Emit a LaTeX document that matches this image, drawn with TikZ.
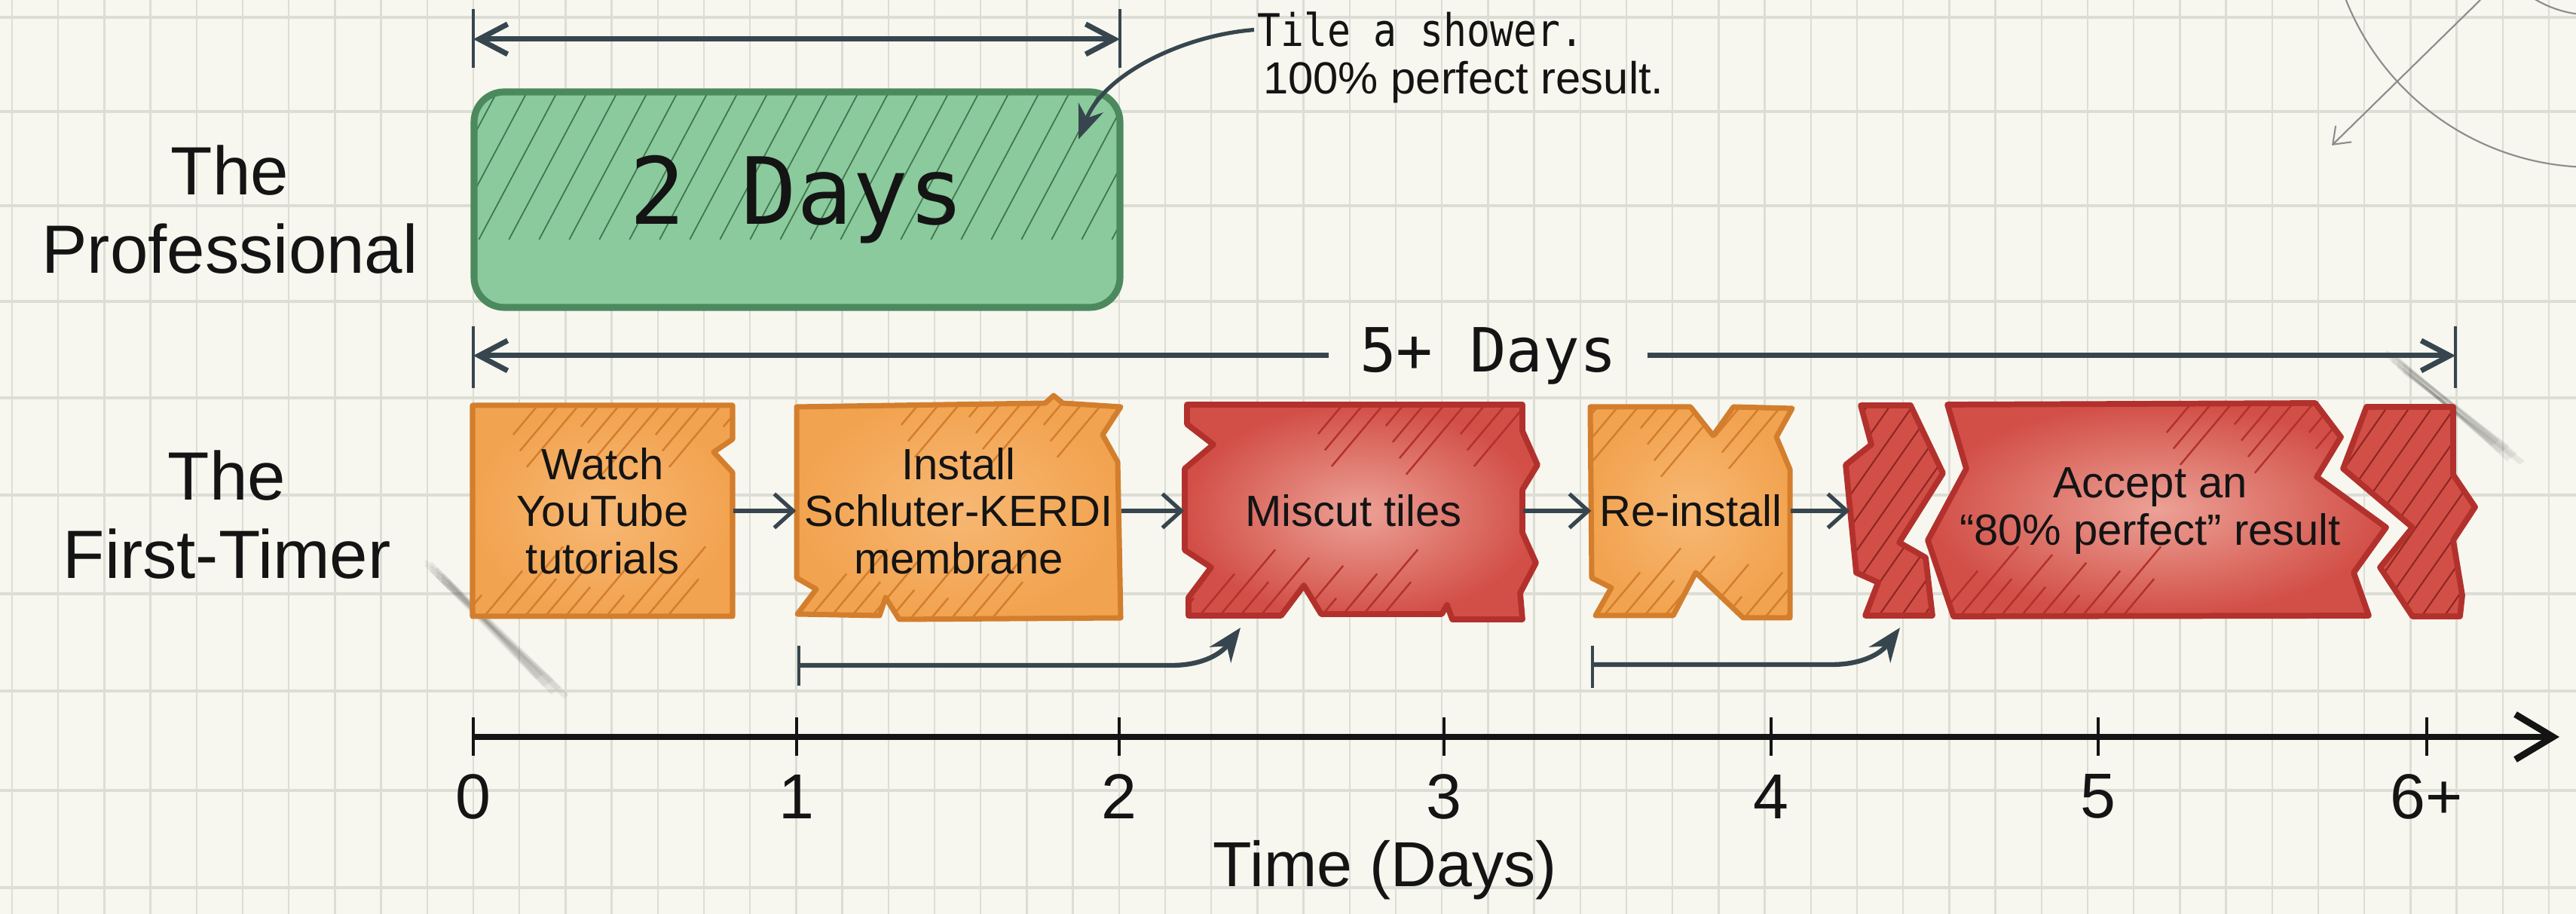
\documentclass[tikz,border=0pt]{standalone}
\usepackage{fontspec}
\setmainfont{Liberation Sans}
\setmonofont{DejaVu Sans Mono}
\newfontfamily\narrowmono[FakeStretch=0.86]{DejaVu Sans Mono}
\usetikzlibrary{arrows.meta}

\definecolor{paper}{HTML}{F7F7EF}
\definecolor{gridline}{HTML}{DCDDD5}
\definecolor{slate}{HTML}{37464E}
\definecolor{ink}{HTML}{141414}
\definecolor{progreen}{HTML}{8ACA9C}
\definecolor{prodark}{HTML}{4C8A5E}
\definecolor{orangefill}{HTML}{F2A34F}
\definecolor{orangelight}{HTML}{F7B874}
\definecolor{orangeedge}{HTML}{D37E2D}
\definecolor{redfill}{HTML}{D24F47}
\definecolor{redlight}{HTML}{ECA196}
\definecolor{rededge}{HTML}{B3312C}

\newcommand{\lanefont}{\fontsize{25.8}{29.5}\selectfont}
\newcommand{\stepfont}{\fontsize{16.5}{17.8}\selectfont}
\newcommand{\tickfont}{\fontsize{24}{28}\selectfont}
\newcommand{\bigmono}{\fontsize{35}{40}\selectfont\ttfamily}
\newcommand{\spanmono}{\fontsize{23}{27}\selectfont\ttfamily}
\newcommand{\notemono}{\fontsize{17}{20}\selectfont\narrowmono}
\newcommand{\notesans}{\fontsize{17}{20}\selectfont}

\tikzset{
  dimtip/.tip={Straight Barb[length=3.8mm,width=4mm]},
  lane/.style={font=\lanefont, align=center, text=ink},
  task/.style={font=\stepfont, align=center, text=ink, inner sep=0pt,
    minimum height=2.8cm},
  tick/.style={font=\tickfont, text=ink},
  note/.style={text=ink, inner sep=1pt},
  flow/.style={slate, line width=1.5pt,
    -{Straight Barb[length=2.5mm,width=4.5mm]}},
  span/.style={slate, line width=2pt},
  endbar/.style={slate, line width=1pt},
  pointer/.style={slate, line width=1.8pt,
    -{Stealth[length=4.5mm,width=3.5mm]}},
  pencil/.style={black!45, line width=0.6pt},
  smudge/.style={black!70, line width=1.1pt, opacity=0.09, line cap=round},
  % diagonal hatching over the whole shape
  hatched/.style n args={3}{path picture={
    \foreach \k in {-10,...,45}
      \draw[#1, shift={(path picture bounding box.south west)}]
        (\k*#2,-0.2) -- ++(#3:4.5);
  }},
  % loose strokes in the top right and bottom left corners
  scratches/.style={path picture={
    \foreach \k in {0,...,10}
      \draw[#1, shift={(path picture bounding box.north east)}]
        ({0.2-\k*0.27},0.1) -- ++(230:{0.5+0.14*mod(\k*5,7)});
    \foreach \k in {0,...,10}
      \draw[#1, shift={(path picture bounding box.south west)}]
        ({\k*0.27-0.2},-0.1) -- ++(50:{0.5+0.14*mod(\k*3,7)});
  }},
  orangebox/.style={draw=orangeedge, line width=2pt, line join=round,
    inner color=orangelight, outer color=orangefill,
    scratches={orangeedge, line width=0.7pt}},
  redbox/.style={draw=rededge, line width=2.2pt, line join=round,
    inner color=redlight, outer color=redfill,
    scratches={rededge, line width=0.7pt}},
  redshard/.style={draw=rededge, line width=2.2pt, line join=round,
    fill=redfill, hatched={rededge!80!black, line width=0.6pt}{0.3}{55}},
  proframe/.style={draw=prodark, fill=progreen, line width=2.6pt,
    rounded corners=0.4cm, minimum width=8.57cm, minimum height=2.86cm,
    font=\bigmono, text=ink,
    hatched={prodark!85!black, line width=0.5pt}{0.4}{62}},
}

\begin{document}
\begin{tikzpicture}
  % graph paper
  \useasboundingbox (0,0) rectangle (34.18,12.13);
  \fill[paper] (0,0) rectangle (34.18,12.13);
  \foreach \gx in {0,...,55}
    \draw[gridline, line width=0.7pt] ({0.16+0.612*\gx},0) -- ({0.16+0.612*\gx},12.13);
  \foreach \gy in {23,148,273,400,528,657,788,917,1049,1178}
    \draw[gridline, line width=0.9pt] (0,{12.13-\gy/100}) -- (34.18,{12.13-\gy/100});

  % pencil marks
  \begin{scope}
    \clip (0,0) rectangle (34.18,12.13);
    \draw[pencil] (34.40,13.43) circle (3.52);
    \draw[pencil] (34.40,13.43) circle (1.50);
  \end{scope}
  \draw[pencil, -{Straight Barb[length=2mm,width=3mm]}] (32.91,12.13) -- (30.94,10.20);
  \foreach \s [count=\n] in {0,0.025,...,0.3} {
    \draw[smudge] ({5.60+\s+0.05*mod(\n,3)},{4.68-\s}) -- ({7.25+\s-0.06*mod(\n,4)},{3.18-\s});
    \draw[smudge] ({31.62+\s+0.05*mod(\n,3)},{7.46-\s}) -- ({33.20+\s-0.06*mod(\n,4)},{6.28-\s});
  }

  % lanes
  \node[lane] (pro) at (3.05,9.35) {The\\Professional};
  \node[lane] (first) at (3.01,5.30) {The\\First-Timer};

  % professional: 2 days
  \coordinate (pro0) at (6.28,11.61);
  \coordinate (pro2) at (14.86,11.61);
  \draw[endbar] (6.28,12.01) -- (6.28,11.23);
  \draw[endbar] (14.86,12.01) -- (14.86,11.23);
  \draw[span, dimtip-dimtip] (pro0) -- (pro2);
  \node[proframe] (twodays) at (10.575,9.48) {2 Days};

  \node[note, anchor=base west, font=\notemono] (tile) at (16.64,11.51) {Tile a shower.};
  \node[note, anchor=base west, font=\notesans] (perfect) at (16.72,10.88) {100\% perfect result.};
  \coordinate (aim) at (14.31,10.28);
  \draw[pointer, line width=1.5pt] (tile.west) .. controls (15.70,11.66) and (14.65,11.15) .. (aim);

  % first-timer: 5+ days
  \node[font=\spanmono, text=ink, inner sep=0.4cm] (fivedays) at (19.745,7.41) {5+ Days};
  \coordinate (first0) at (6.28,7.41);
  \coordinate (firstend) at (32.58,7.41);
  \draw[endbar] (6.28,7.80) -- (6.28,6.98);
  \draw[endbar] (32.58,7.80) -- (32.58,6.98);
  \draw[span, -dimtip] (fivedays.west) -- (first0);
  \draw[span, -dimtip] (fivedays.east) -- (firstend);

  % the torn task cards
  \shadedraw[orangebox] (6.27,6.75) -- (9.72,6.75) -- (9.72,6.30) -- (9.47,6.13)
    -- (9.72,5.86) -- (9.72,3.95) -- (6.27,3.95) -- cycle;
  \shadedraw[orangebox] (10.57,6.73) -- (13.87,6.78) -- (13.98,6.88) -- (14.10,6.78)
    -- (14.87,6.73) -- (14.63,6.36) -- (14.83,6.00) -- (14.87,3.93) -- (11.93,3.91)
    -- (11.75,4.20) -- (11.67,3.96) -- (10.58,3.98) -- (10.83,4.31) -- (10.57,4.46) -- cycle;
  \shadedraw[redbox] (15.75,6.76) -- (20.20,6.76) -- (20.20,6.41) -- (20.40,5.96)
    -- (20.20,5.63) -- (20.20,5.06) -- (20.38,4.66) -- (20.17,4.26) -- (20.20,3.91)
    -- (19.27,3.91) -- (19.20,4.10) -- (19.13,3.98) -- (17.53,3.98) -- (17.30,4.36)
    -- (17.00,3.96) -- (15.77,3.96) -- (15.77,4.20) -- (16.07,4.60) -- (15.72,4.83)
    -- (15.72,5.91) -- (16.10,6.23) -- (15.75,6.50) -- cycle;
  \shadedraw[orangebox] (21.10,6.73) -- (22.43,6.73) -- (22.73,6.35) -- (23.00,6.73)
    -- (23.78,6.71) -- (23.57,6.33) -- (23.75,5.90) -- (23.75,3.93) -- (23.13,3.93)
    -- (22.50,4.53) -- (22.20,3.96) -- (21.17,3.96) -- (21.38,4.33) -- (21.12,4.46) -- cycle;
  \filldraw[redshard] (24.69,6.75) -- (25.35,6.75) -- (25.78,5.85) -- (25.20,4.93)
    -- (25.55,4.73) -- (25.64,3.96) -- (24.75,3.96) -- (24.92,4.40) -- (24.63,4.53)
    -- (24.49,5.96) -- (24.83,6.23) -- cycle;
  \shadedraw[redbox] (25.84,6.76) -- (30.72,6.78) -- (31.06,6.33) -- (30.74,5.80)
    -- (31.66,5.13) -- (31.23,4.53) -- (31.43,3.96) -- (25.92,3.95) -- (25.58,4.96)
    -- (26.09,5.91) -- cycle;
  \filldraw[redshard] (31.40,6.73) -- (32.55,6.73) -- (32.55,5.83) -- (32.84,5.40)
    -- (32.55,4.96) -- (32.67,4.23) -- (32.64,3.95) -- (32.01,3.95) -- (31.58,4.60)
    -- (32.01,5.13) -- (31.09,5.91) -- cycle;

  \node[task, minimum width=3.45cm] (watch) at (7.995,5.35) {Watch\\YouTube\\tutorials};
  \node[task, minimum width=4.30cm] (kerdi) at (12.72,5.35) {Install\\Schluter-KERDI\\membrane};
  \node[task, minimum width=4.48cm] (miscut) at (17.96,5.35) {Miscut tiles};
  \node[task, minimum width=2.63cm] (reinstall) at (22.435,5.35) {Re-install};
  \node[task, minimum width=7.96cm] (accept) at (28.53,5.35) {Accept an\\“80\% perfect” result};

  \draw[flow] (watch.east) -- (kerdi.west);
  \draw[flow] (kerdi.east) -- (miscut.west);
  \draw[flow] (miscut.east) -- (reinstall.west);
  \draw[flow] (reinstall.east) -- (accept.west);

  % slips back into red
  \coordinate (slip1) at (10.60,3.30);
  \coordinate (hit1) at (16.46,3.80);
  \draw[endbar] (10.60,3.56) -- (10.60,3.03);
  \draw[pointer] (slip1) -- (15.55,3.30) .. controls (15.95,3.30) and (16.20,3.45) .. (hit1);
  \coordinate (slip2) at (21.13,3.31);
  \coordinate (hit2) at (25.21,3.80);
  \draw[endbar] (21.13,3.56) -- (21.13,3.00);
  \draw[pointer] (slip2) -- (24.30,3.31) .. controls (24.70,3.31) and (24.95,3.45) .. (hit2);

  % time axis
  \coordinate (axstart) at (6.28,2.35);
  \coordinate (axend) at (33.96,2.35);
  \draw[ink, line width=2.5pt, -{Straight Barb[length=5mm,width=6mm]}] (axstart) -- (axend);
  \foreach \x/\t [count=\i] in {6.28/0,10.57/1,14.85/2,19.16/3,23.50/4,27.84/5,32.20/6+} {
    \draw[ink, line width=1pt] (\x,2.10) -- (\x,2.61);
    \node[tick] (tick\i) at (\x,1.56) {\t};
  }
  \node[tick] (timelabel) at (18.38,0.58) {Time (Days)};
\end{tikzpicture}
\end{document}
